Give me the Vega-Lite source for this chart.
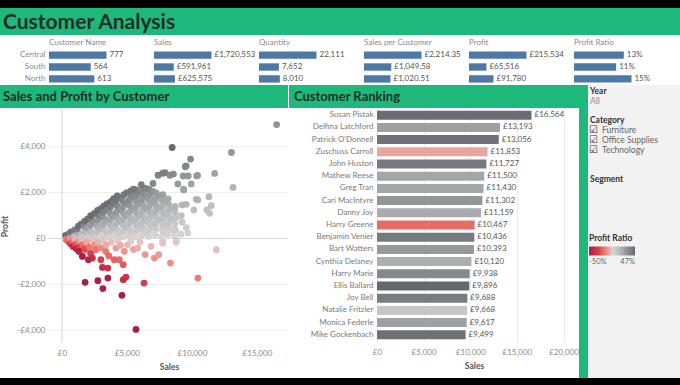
{
"$schema": "https://vega.github.io/schema/vega-lite/v6.json",
"padding": 0,
"background": "white",
"spacing": 0,
"config": {
  "font": "Lato",
  "locale": {"number": {"decimal": ".", "thousands": ",", "grouping": [3], "currency": ["£", ""], "minus": "-"}},
  "view": {"stroke": null},
  "concat": {"spacing": 0},
  "axis": {"labelFont": "Lato", "titleFont": "Lato", "labelColor": "#8a8a8a", "labelFontSize": 8, "titleFontSize": 8.5, "titleColor": "#555", "titleFontWeight": "bold", "domain": false, "ticks": false, "gridColor": "#ececec"},
  "title": {"font": "Lato"},
  "legend": {"labelFont": "Lato", "titleFont": "Lato"}
},
"datasets": {
  "kpi": [
    {"measure": "Customer Name", "region": "Central", "value": 777},
    {"measure": "Customer Name", "region": "South", "value": 564},
    {"measure": "Customer Name", "region": "North", "value": 613},
    {"measure": "Sales", "region": "Central", "value": 1720553},
    {"measure": "Sales", "region": "South", "value": 591961},
    {"measure": "Sales", "region": "North", "value": 625575},
    {"measure": "Quantity", "region": "Central", "value": 22111},
    {"measure": "Quantity", "region": "South", "value": 7652},
    {"measure": "Quantity", "region": "North", "value": 8010},
    {"measure": "Sales per Customer", "region": "Central", "value": 2214.35},
    {"measure": "Sales per Customer", "region": "South", "value": 1049.58},
    {"measure": "Sales per Customer", "region": "North", "value": 1020.51},
    {"measure": "Profit", "region": "Central", "value": 215534},
    {"measure": "Profit", "region": "South", "value": 65516},
    {"measure": "Profit", "region": "North", "value": 91780},
    {"measure": "Profit Ratio", "region": "Central", "value": 0.13},
    {"measure": "Profit Ratio", "region": "South", "value": 0.11},
    {"measure": "Profit Ratio", "region": "North", "value": 0.15}
  ],
  "rank": [
    {"name": "Susan Pistak", "sales": 16564, "r": 0.43},
    {"name": "Delfina Latchford", "sales": 13193, "r": 0.23},
    {"name": "Patrick O'Donnell", "sales": 13056, "r": 0.41},
    {"name": "Zuschuss Carroll", "sales": 11853, "r": -0.08},
    {"name": "John Huston", "sales": 11727, "r": 0.38},
    {"name": "Mathew Reese", "sales": 11500, "r": 0.21},
    {"name": "Greg Tran", "sales": 11430, "r": 0.21},
    {"name": "Cari MacIntyre", "sales": 11302, "r": 0.27},
    {"name": "Danny Joy", "sales": 11159, "r": 0.19},
    {"name": "Harry Greene", "sales": 10467, "r": -0.19},
    {"name": "Benjamin Venier", "sales": 10436, "r": 0.38},
    {"name": "Bart Watters", "sales": 10393, "r": 0.26},
    {"name": "Cynthia Delaney", "sales": 10120, "r": 0.18},
    {"name": "Harry Marie", "sales": 9938, "r": 0.32},
    {"name": "Ellis Ballard", "sales": 9896, "r": 0.45},
    {"name": "Joy Bell", "sales": 9688, "r": 0.37},
    {"name": "Natalie Fritzler", "sales": 9668, "r": 0.07},
    {"name": "Monica Federle", "sales": 9617, "r": 0.23},
    {"name": "Mike Gockenbach", "sales": 9499, "r": 0.42}
  ],
  "side": [
    {"label": "Year", "kind": "head"},
    {"label": "All", "kind": "val"},
    {"label": "Category", "kind": "head"},
    {"label": "Furniture", "kind": "opt"},
    {"label": "Office Supplies", "kind": "opt"},
    {"label": "Technology", "kind": "opt"},
    {"label": "Segment", "kind": "head"}
  ],
  "grid": [{"g": -4000}, {"g": -2000}, {"g": 2000}, {"g": 4000}],
  "pts": [
    {"s":320,"p":70,"r":0.22},{"s":280,"p":130,"r":0.46},{"s":520,"p":200,"r":0.38},
    {"s":680,"p":40,"r":0.06},{"s":740,"p":170,"r":0.23},{"s":700,"p":290,"r":0.41},{"s":950,"p":120,"r":0.13},{"s":980,"p":380,"r":0.39},
    {"s":1150,"p":50,"r":0.04},{"s":1230,"p":230,"r":0.19},{"s":1180,"p":420,"r":0.36},{"s":1260,"p":540,"r":0.43},{"s":1450,"p":160,"r":0.11},{"s":1480,"p":640,"r":0.43},
    {"s":1650,"p":70,"r":0.04},{"s":1740,"p":310,"r":0.18},{"s":1690,"p":560,"r":0.33},{"s":1760,"p":760,"r":0.43},{"s":1950,"p":200,"r":0.1},{"s":1970,"p":450,"r":0.23},{"s":1990,"p":860,"r":0.43},
    {"s":2150,"p":90,"r":0.04},{"s":2240,"p":320,"r":0.14},{"s":2190,"p":590,"r":0.27},{"s":2260,"p":840,"r":0.37},{"s":2210,"p":1000,"r":0.45},{"s":2450,"p":190,"r":0.08},{"s":2470,"p":700,"r":0.28},{"s":2490,"p":1100,"r":0.44},
    {"s":2650,"p":40,"r":0.02},{"s":2730,"p":290,"r":0.11},{"s":2680,"p":550,"r":0.21},{"s":2760,"p":810,"r":0.29},{"s":2700,"p":1070,"r":0.4},{"s":2740,"p":1230,"r":0.45},{"s":2950,"p":440,"r":0.15},{"s":2970,"p":960,"r":0.32},{"s":2990,"p":1300,"r":0.43},
    {"s":3150,"p":110,"r":0.03},{"s":3250,"p":370,"r":0.11},{"s":3180,"p":630,"r":0.2},{"s":3260,"p":880,"r":0.27},{"s":3190,"p":1150,"r":0.36},{"s":3230,"p":1420,"r":0.44},{"s":3450,"p":230,"r":0.07},{"s":3470,"p":760,"r":0.22},{"s":3490,"p":1270,"r":0.36},{"s":3480,"p":1520,"r":0.44},
    {"s":3660,"p":60,"r":0.02},{"s":3740,"p":330,"r":0.09},{"s":3680,"p":590,"r":0.16},{"s":3750,"p":850,"r":0.23},{"s":3690,"p":1110,"r":0.3},{"s":3720,"p":1370,"r":0.37},{"s":3760,"p":1610,"r":0.43},{"s":3950,"p":480,"r":0.12},{"s":3970,"p":1000,"r":0.25},{"s":3990,"p":1520,"r":0.38},{"s":3980,"p":1740,"r":0.44},
    {"s":4150,"p":130,"r":0.03},{"s":4240,"p":380,"r":0.09},{"s":4180,"p":650,"r":0.16},{"s":4260,"p":910,"r":0.21},{"s":4190,"p":1160,"r":0.28},{"s":4230,"p":1430,"r":0.34},{"s":4170,"p":1680,"r":0.4},{"s":4250,"p":1860,"r":0.44},{"s":4450,"p":250,"r":0.06},{"s":4470,"p":770,"r":0.17},{"s":4490,"p":1290,"r":0.29},{"s":4460,"p":1780,"r":0.4},
    {"s":4660,"p":70,"r":0.02},{"s":4740,"p":340,"r":0.07},{"s":4680,"p":600,"r":0.13},{"s":4750,"p":850,"r":0.18},{"s":4690,"p":1120,"r":0.24},{"s":4720,"p":1380,"r":0.29},{"s":4670,"p":1640,"r":0.35},{"s":4760,"p":1910,"r":0.4},{"s":4950,"p":500,"r":0.1},{"s":4970,"p":1020,"r":0.21},{"s":4990,"p":1540,"r":0.31},{"s":4980,"p":2000,"r":0.4},
    {"s":5150,"p":140,"r":0.03},{"s":5240,"p":390,"r":0.07},{"s":5180,"p":660,"r":0.13},{"s":5260,"p":910,"r":0.17},{"s":5190,"p":1170,"r":0.23},{"s":5230,"p":1440,"r":0.28},{"s":5170,"p":1700,"r":0.33},{"s":5250,"p":1960,"r":0.37},{"s":5300,"p":2080,"r":0.39},{"s":5450,"p":260,"r":0.05},{"s":5470,"p":780,"r":0.14},{"s":5490,"p":1300,"r":0.24},{"s":5460,"p":1820,"r":0.33},
    {"s":5660,"p":80,"r":0.01},{"s":5740,"p":350,"r":0.06},{"s":5680,"p":600,"r":0.11},{"s":5750,"p":870,"r":0.15},{"s":5690,"p":1130,"r":0.2},{"s":5720,"p":1390,"r":0.24},{"s":5670,"p":1650,"r":0.29},{"s":5760,"p":1900,"r":0.33},{"s":5710,"p":2120,"r":0.37},{"s":5950,"p":520,"r":0.09},{"s":5970,"p":1040,"r":0.17},{"s":5990,"p":1560,"r":0.26},{"s":5980,"p":2040,"r":0.34},
    {"s":6150,"p":150,"r":0.02},{"s":6240,"p":410,"r":0.07},{"s":6180,"p":680,"r":0.11},{"s":6260,"p":930,"r":0.15},{"s":6190,"p":1200,"r":0.19},{"s":6230,"p":1450,"r":0.23},{"s":6170,"p":1720,"r":0.28},{"s":6250,"p":1970,"r":0.32},{"s":6300,"p":2190,"r":0.35},{"s":6450,"p":280,"r":0.04},{"s":6470,"p":800,"r":0.12},{"s":6490,"p":1320,"r":0.2},{"s":6460,"p":1840,"r":0.28},
    {"s":6660,"p":90,"r":0.01},{"s":6740,"p":350,"r":0.05},{"s":6680,"p":620,"r":0.09},{"s":6750,"p":870,"r":0.13},{"s":6690,"p":1140,"r":0.17},{"s":6720,"p":1390,"r":0.21},{"s":6670,"p":1660,"r":0.25},{"s":6760,"p":1910,"r":0.28},{"s":6710,"p":2140,"r":0.32},{"s":6950,"p":540,"r":0.08},{"s":6970,"p":1060,"r":0.15},{"s":6990,"p":1580,"r":0.23},{"s":6980,"p":2050,"r":0.29},
    {"s":7150,"p":160,"r":0.02},{"s":7240,"p":420,"r":0.06},{"s":7180,"p":690,"r":0.1},{"s":7260,"p":940,"r":0.13},{"s":7190,"p":1210,"r":0.17},{"s":7230,"p":1460,"r":0.2},{"s":7170,"p":1730,"r":0.24},{"s":7250,"p":1990,"r":0.27},{"s":7450,"p":820,"r":0.11},{"s":7470,"p":1330,"r":0.18},{"s":7490,"p":1850,"r":0.25},
    {"s":7660,"p":100,"r":0.01},{"s":7740,"p":360,"r":0.05},{"s":7680,"p":630,"r":0.08},{"s":7750,"p":880,"r":0.11},{"s":7690,"p":1150,"r":0.15},{"s":7720,"p":1400,"r":0.18},{"s":7670,"p":1670,"r":0.22},{"s":7760,"p":1910,"r":0.25},{"s":7950,"p":560,"r":0.07},{"s":7970,"p":1080,"r":0.14},{"s":7990,"p":1600,"r":0.2},
    {"s":8150,"p":170,"r":0.02},{"s":8240,"p":440,"r":0.05},{"s":8180,"p":700,"r":0.09},{"s":8260,"p":950,"r":0.12},{"s":8190,"p":1220,"r":0.15},{"s":8230,"p":1470,"r":0.18},{"s":8170,"p":1730,"r":0.21},{"s":8450,"p":840,"r":0.1},{"s":8470,"p":1300,"r":0.15},
    {"s":8660,"p":120,"r":0.01},{"s":8740,"p":380,"r":0.04},{"s":8680,"p":640,"r":0.07},{"s":8750,"p":890,"r":0.1},{"s":8690,"p":1160,"r":0.13},{"s":8720,"p":1400,"r":0.16},
    {"s":9150,"p":190,"r":0.02},{"s":9240,"p":710,"r":0.08},
    {"s":16514,"p":4970,"r":0.3},{"s":8477,"p":3970,"r":0.47},{"s":13037,"p":3752,"r":0.29},{"s":13160,"p":2230,"r":0.17},{"s":9892,"p":3465,"r":0.35},{"s":9482,"p":3130,"r":0.33},{"s":11746,"p":2840,"r":0.24},{"s":10433,"p":2752,"r":0.26},{"s":9946,"p":2378,"r":0.24},{"s":9328,"p":2726,"r":0.29},{"s":9714,"p":2726,"r":0.28},{"s":8910,"p":2378,"r":0.27},{"s":8578,"p":2813,"r":0.33},{"s":7936,"p":2870,"r":0.36},{"s":7397,"p":2760,"r":0.37},{"s":7753,"p":2847,"r":0.37},{"s":8294,"p":2760,"r":0.33},{"s":9374,"p":2117,"r":0.23},{"s":11306,"p":1826,"r":0.16},{"s":11491,"p":1435,"r":0.12},{"s":10456,"p":1683,"r":0.16},{"s":9250,"p":1465,"r":0.16},{"s":10147,"p":1248,"r":0.12},{"s":11151,"p":1248,"r":0.11},{"s":11360,"p":1100,"r":0.1},{"s":9173,"p":1000,"r":0.11},{"s":8578,"p":378,"r":0.04},{"s":9683,"p":230,"r":0.02},{"s":7882,"p":261,"r":0.03},{"s":6491,"p":2187,"r":0.34},{"s":9560,"p":3165,"r":0.33},{"s":10360,"p":2730,"r":0.26},{"s":9350,"p":2150,"r":0.23},{"s":10330,"p":1710,"r":0.17},{"s":9560,"p":1490,"r":0.16},{"s":9560,"p":470,"r":0.05},{"s":8790,"p":-110,"r":-0.01},{"s":7750,"p":-110,"r":-0.01},{"s":7000,"p":2400,"r":0.34},{"s":6100,"p":2350,"r":0.39},{"s":5500,"p":2150,"r":0.39},
    {"s":300,"p":-40,"r":-0.13},{"s":450,"p":-110,"r":-0.24},{"s":600,"p":-60,"r":-0.1},{"s":650,"p":-230,"r":-0.35},{"s":800,"p":-140,"r":-0.18},{"s":850,"p":-350,"r":-0.41},{"s":1000,"p":-60,"r":-0.06},{"s":1050,"p":-260,"r":-0.25},{"s":1100,"p":-450,"r":-0.41},{"s":1300,"p":-150,"r":-0.12},{"s":1350,"p":-380,"r":-0.28},{"s":1314,"p":-565,"r":-0.43},{"s":1500,"p":-60,"r":-0.04},{"s":1600,"p":-280,"r":-0.18},{"s":1571,"p":-783,"r":-0.5},{"s":1750,"p":-480,"r":-0.27},{"s":1900,"p":-150,"r":-0.08},{"s":2032,"p":-928,"r":-0.46},{"s":2100,"p":-380,"r":-0.18},{"s":2200,"p":-650,"r":-0.3},{"s":2341,"p":-855,"r":-0.37},{"s":2400,"p":-90,"r":-0.04},{"s":2500,"p":-300,"r":-0.12},{"s":2604,"p":-491,"r":-0.19},{"s":2800,"p":-170,"r":-0.06},{"s":2990,"p":-928,"r":-0.31},{"s":3000,"p":-420,"r":-0.14},{"s":3114,"p":-1261,"r":-0.4},{"s":3200,"p":-80,"r":-0.03},{"s":3377,"p":-565,"r":-0.17},{"s":3400,"p":-280,"r":-0.08},{"s":3531,"p":-1291,"r":-0.37},{"s":3600,"p":-760,"r":-0.21},{"s":3800,"p":-160,"r":-0.04},{"s":4018,"p":-928,"r":-0.23},{"s":4150,"p":-420,"r":-0.1},{"s":4300,"p":-100,"r":-0.02},{"s":4405,"p":-928,"r":-0.21},{"s":4500,"p":-300,"r":-0.07},{"s":4714,"p":-1145,"r":-0.24},{"s":4800,"p":-560,"r":-0.12},{"s":5046,"p":-275,"r":-0.05},{"s":5300,"p":-120,"r":-0.02},{"s":5500,"p":-480,"r":-0.09},{"s":5819,"p":-420,"r":-0.07},{"s":6000,"p":-150,"r":-0.03},{"s":6400,"p":-700,"r":-0.11},{"s":6855,"p":-348,"r":-0.05},{"s":7110,"p":-855,"r":-0.12},{"s":7442,"p":-710,"r":-0.1},{"s":7751,"p":-203,"r":-0.03},{"s":8787,"p":-160,"r":-0.02},
    {"s":3531,"p":-1726,"r":-0.49},{"s":2759,"p":-1839,"r":-0.67},{"s":1777,"p":-1913,"r":-1.08},{"s":3145,"p":-2187,"r":-0.7},{"s":4714,"p":-1796,"r":-0.38},{"s":4923,"p":-1683,"r":-0.34},{"s":4613,"p":-2478,"r":-0.54},{"s":5695,"p":-3970,"r":-0.7},{"s":6313,"p":-1943,"r":-0.31},{"s":8346,"p":-1074,"r":-0.13},{"s":10456,"p":-1726,"r":-0.17},{"s":11876,"p":-491,"r":-0.04}
  ]
},
"vconcat": [
  {"width": 680, "height": 8, "data": {"values": [{}]}, "mark": {"type": "rect", "color": "#000000"}, "encoding": {}, "view": {"fill": "#000000", "stroke": null}},
  {"width": 680, "height": 27, "data": {"values": [{"t": "Customer Analysis"}]}, "view": {"fill": "#1eb87a", "stroke": null},
   "mark": {"type": "text", "align": "left", "baseline": "middle", "fontSize": 21, "fontWeight": "bold", "color": "#1f2e27", "dx": 3, "dy": 1},
   "encoding": {"text": {"field": "t"}, "x": {"datum": 0, "type": "quantitative", "scale": {"domain": [0, 1]}, "axis": null}}},
  {"width": 680, "height": 4, "data": {"values": [{}]}, "mark": {"type": "rect", "color": "#ffffff"}, "encoding": {}, "view": {"fill": "#ffffff", "stroke": null}},
  {"hconcat": [
    {"width": 154, "height": 36, "data": {"name": "kpi"}, "transform": [{"filter": "datum.measure == 'Customer Name'"}],
     "title": {"text": "Customer Name", "anchor": "start", "frame": "group", "fontSize": 8, "fontWeight": "normal", "color": "#8a8a8a", "offset": 2, "dx": 49},
     "encoding": {"y": {"field": "region", "type": "nominal", "sort": ["Central", "South", "North"], "scale": {"paddingInner": 0.38, "paddingOuter": 0.2}, "axis": {"title": null, "labelPadding": 4, "offset": -49, "labelColor": "#8a8a8a"}},
                  "x": {"field": "value", "type": "quantitative", "scale": {"domain": [-662, 1419], "nice": false}, "axis": null}},
     "layer": [{"mark": {"type": "bar", "color": "#4e79a7"}}, {"mark": {"type": "text", "align": "left", "dx": 3, "fontSize": 8, "color": "#555"}, "encoding": {"text": {"field": "value", "format": ",.0f"}}}]},
    {"width": 105, "height": 36, "data": {"name": "kpi"}, "transform": [{"filter": "datum.measure == 'Sales'"}],
     "title": {"text": "Sales", "anchor": "start", "frame": "group", "fontSize": 8, "fontWeight": "normal", "color": "#8a8a8a", "offset": 2},
     "encoding": {"y": {"field": "region", "type": "nominal", "sort": ["Central", "South", "North"], "scale": {"paddingInner": 0.38, "paddingOuter": 0.2}, "axis": null},
                  "x": {"field": "value", "type": "quantitative", "scale": {"domain": [0, 3141730]}, "axis": null}},
     "layer": [{"mark": {"type": "bar", "color": "#4e79a7"}}, {"mark": {"type": "text", "align": "left", "dx": 3, "fontSize": 8, "color": "#555"}, "encoding": {"text": {"field": "value", "format": "$,.0f"}}}]},
    {"width": 105, "height": 36, "data": {"name": "kpi"}, "transform": [{"filter": "datum.measure == 'Quantity'"}],
     "title": {"text": "Quantity", "anchor": "start", "frame": "group", "fontSize": 8, "fontWeight": "normal", "color": "#8a8a8a", "offset": 2},
     "encoding": {"y": {"field": "region", "type": "nominal", "sort": ["Central", "South", "North"], "scale": {"paddingInner": 0.38, "paddingOuter": 0.2}, "axis": null},
                  "x": {"field": "value", "type": "quantitative", "scale": {"domain": [0, 40375]}, "axis": null}},
     "layer": [{"mark": {"type": "bar", "color": "#4e79a7"}}, {"mark": {"type": "text", "align": "left", "dx": 3, "fontSize": 8, "color": "#555"}, "encoding": {"text": {"field": "value", "format": ",.0f"}}}]},
    {"width": 105, "height": 36, "data": {"name": "kpi"}, "transform": [{"filter": "datum.measure == 'Sales per Customer'"}],
     "title": {"text": "Sales per Customer", "anchor": "start", "frame": "group", "fontSize": 8, "fontWeight": "normal", "color": "#8a8a8a", "offset": 2},
     "encoding": {"y": {"field": "region", "type": "nominal", "sort": ["Central", "South", "North"], "scale": {"paddingInner": 0.38, "paddingOuter": 0.2}, "axis": null},
                  "x": {"field": "value", "type": "quantitative", "scale": {"domain": [0, 4043]}, "axis": null}},
     "layer": [{"mark": {"type": "bar", "color": "#4e79a7"}}, {"mark": {"type": "text", "align": "left", "dx": 3, "fontSize": 8, "color": "#555"}, "encoding": {"text": {"field": "value", "format": "$,.2f"}}}]},
    {"width": 105, "height": 36, "data": {"name": "kpi"}, "transform": [{"filter": "datum.measure == 'Profit'"}],
     "title": {"text": "Profit", "anchor": "start", "frame": "group", "fontSize": 8, "fontWeight": "normal", "color": "#8a8a8a", "offset": 2},
     "encoding": {"y": {"field": "region", "type": "nominal", "sort": ["Central", "South", "North"], "scale": {"paddingInner": 0.38, "paddingOuter": 0.2}, "axis": null},
                  "x": {"field": "value", "type": "quantitative", "scale": {"domain": [0, 393565]}, "axis": null}},
     "layer": [{"mark": {"type": "bar", "color": "#4e79a7"}}, {"mark": {"type": "text", "align": "left", "dx": 3, "fontSize": 8, "color": "#555"}, "encoding": {"text": {"field": "value", "format": "$,.0f"}}}]},
    {"width": 105, "height": 36, "data": {"name": "kpi"}, "transform": [{"filter": "datum.measure == 'Profit Ratio'"}],
     "title": {"text": "Profit Ratio", "anchor": "start", "frame": "group", "fontSize": 8, "fontWeight": "normal", "color": "#8a8a8a", "offset": 2},
     "encoding": {"y": {"field": "region", "type": "nominal", "sort": ["Central", "South", "North"], "scale": {"paddingInner": 0.38, "paddingOuter": 0.2}, "axis": null},
                  "x": {"field": "value", "type": "quantitative", "scale": {"domain": [0, 0.274]}, "axis": null}},
     "layer": [{"mark": {"type": "bar", "color": "#4e79a7"}}, {"mark": {"type": "text", "align": "left", "dx": 3, "fontSize": 8, "color": "#555"}, "encoding": {"text": {"field": "value", "format": ".0%"}}}]}
  ]},
  {"hconcat": [
    {"vconcat": [
      {"width": 288, "height": 23, "data": {"values": [{"t": "Sales and Profit by Customer"}]}, "view": {"fill": "#1eb87a", "stroke": null},
       "mark": {"type": "text", "align": "left", "baseline": "middle", "fontSize": 13, "fontWeight": "bold", "color": "#1f2e27", "dx": 3},
       "encoding": {"text": {"field": "t"}, "x": {"datum": 0, "type": "quantitative", "scale": {"domain": [0, 1]}, "axis": null}}},
      {"width": 288, "height": 234,
       "layer": [
         {"data": {"name": "grid"}, "mark": {"type": "rule", "color": "#ececec"}, "encoding": {"y": {"field": "g", "type": "quantitative"}, "x": {"datum": -1000, "type": "quantitative"}, "x2": {"datum": 17390}}},
         {"data": {"values": [{}]}, "mark": {"type": "rule", "color": "#d4d4d4"}, "encoding": {"y": {"datum": 0, "type": "quantitative"}, "x": {"datum": -1000, "type": "quantitative"}, "x2": {"datum": 17390}}},
         {"data": {"values": [{}]}, "mark": {"type": "rule", "color": "#d4d4d4"}, "encoding": {"x": {"datum": 0, "type": "quantitative"}}},
         {"data": {"name": "pts"}, "mark": {"type": "circle", "size": 46, "opacity": 0.95, "clip": true},
          "encoding": {
            "x": {"field": "s", "type": "quantitative", "title": "Sales", "scale": {"domain": [-4770, 17390], "nice": false, "zero": false}, "axis": {"values": [0, 5000, 10000, 15000], "format": "$,.0f", "labelPadding": 6, "titlePadding": 5, "titleX": 169}},
            "y": {"field": "p", "type": "quantitative", "title": "Profit", "scale": {"domain": [-4560, 5650], "nice": false, "zero": false}, "axis": {"values": [-4000, -2000, 0, 2000, 4000], "format": "$,.0f", "grid": false, "offset": -49, "labelPadding": 4, "minExtent": 38, "maxExtent": 38, "titlePadding": 2}},
            "color": {"field": "r", "type": "quantitative", "scale": {"domain": [-0.5, -0.3, -0.12, 0, 0.15, 0.47], "range": ["#a3123a", "#d7343f", "#f08a80", "#d6d4d4", "#b4b6b8", "#5f6368"], "clamp": true},
              "legend": {"orient": "none", "legendX": 589, "legendY": 234, "direction": "horizontal", "gradientLength": 46, "gradientThickness": 9, "title": "Profit Ratio", "titleFontSize": 8.5, "titleColor": "#333", "titleFontWeight": "bold", "labelFontSize": 7.5, "labelColor": "#666", "values": [-0.5, 0.47], "format": ".0%", "titlePadding": 4}}
          }}
       ]}
    ]},
    {"vconcat": [
      {"width": 290, "height": 23, "data": {"values": [{"t": "Customer Ranking"}]}, "view": {"fill": "#1eb87a", "stroke": null},
       "mark": {"type": "text", "align": "left", "baseline": "middle", "fontSize": 13, "fontWeight": "bold", "color": "#1f2e27", "dx": 5},
       "encoding": {"text": {"field": "t"}, "x": {"datum": 0, "type": "quantitative", "scale": {"domain": [0, 1]}, "axis": null}}},
      {"width": 282, "height": 234, "data": {"name": "rank"},
       "encoding": {
         "y": {"field": "name", "type": "nominal", "sort": "-x", "scale": {"paddingInner": 0.26, "paddingOuter": 0.22}, "axis": {"title": null, "labelPadding": 4, "offset": -88, "labelColor": "#7a7a7a", "labelLimit": 90}},
         "x": {"field": "sales", "type": "quantitative", "title": "Sales", "scale": {"domain": [-9435, 20800], "nice": false}, "axis": {"values": [0, 5000, 10000, 15000, 20000], "format": "$,.0f", "labelPadding": 6, "titlePadding": 5, "titleX": 185}}
       },
       "layer": [
         {"mark": {"type": "bar"}, "encoding": {"color": {"field": "r", "type": "quantitative", "scale": {"domain": [-0.5, -0.3, -0.12, 0, 0.15, 0.47], "range": ["#a3123a", "#d7343f", "#f08a80", "#d6d4d4", "#b4b6b8", "#5f6368"], "clamp": true},
              "legend": {"orient": "none", "legendX": 589, "legendY": 234, "direction": "horizontal", "gradientLength": 46, "gradientThickness": 9, "title": "Profit Ratio", "titleFontSize": 8.5, "titleColor": "#333", "titleFontWeight": "bold", "labelFontSize": 7.5, "labelColor": "#666", "values": [-0.5, 0.47], "format": ".0%", "titlePadding": 4}}}},
         {"mark": {"type": "text", "align": "left", "dx": 3, "fontSize": 8, "color": "#555"}, "encoding": {"text": {"field": "sales", "format": "$,.0f"}}}
       ]}
    ]},
    {"width": 9, "height": 293, "data": {"values": [{}]}, "mark": {"type": "rect", "color": "#1eb87a"}, "encoding": {}, "view": {"fill": "#1eb87a", "stroke": null}},
    {"width": 93, "height": 293, "data": {"name": "side"}, "view": {"fill": "#f2f2f2", "stroke": null},
     "encoding": {
       "x": {"datum": 0, "type": "quantitative", "scale": {"domain": [0, 1]}, "axis": null},
       "y": {"field": "label", "type": "nominal", "scale": {"type": "point", "domain": ["Year", "All", "s1", "Category", "Furniture", "Office Supplies", "Technology", "s2", "s3", "Segment"], "range": [6, 94], "padding": 0}, "axis": null}
     },
     "layer": [
       {"transform": [{"filter": "datum.kind == 'head'"}], "mark": {"type": "text", "align": "left", "baseline": "middle", "fontSize": 8.5, "fontWeight": "bold", "color": "#333", "dx": 2}, "encoding": {"text": {"field": "label"}}},
       {"transform": [{"filter": "datum.kind == 'val'"}], "mark": {"type": "text", "align": "left", "baseline": "middle", "fontSize": 8.5, "color": "#8a8a8a", "dx": 2}, "encoding": {"text": {"field": "label"}}},
       {"transform": [{"filter": "datum.kind == 'opt'"}], "mark": {"type": "text", "align": "left", "baseline": "middle", "fontSize": 8.5, "color": "#666", "dx": 14}, "encoding": {"text": {"field": "label"}}},
       {"transform": [{"filter": "datum.kind == 'opt'"}], "mark": {"type": "text", "align": "left", "baseline": "middle", "fontSize": 10, "font": "DejaVu Sans", "color": "#333", "dx": 1}, "encoding": {"text": {"value": "☑"}}}
     ]}
  ]},
  {"width": 680, "height": 7, "data": {"values": [{}]}, "mark": {"type": "rect", "color": "#000000"}, "encoding": {}, "view": {"fill": "#000000", "stroke": null}}
]
}
